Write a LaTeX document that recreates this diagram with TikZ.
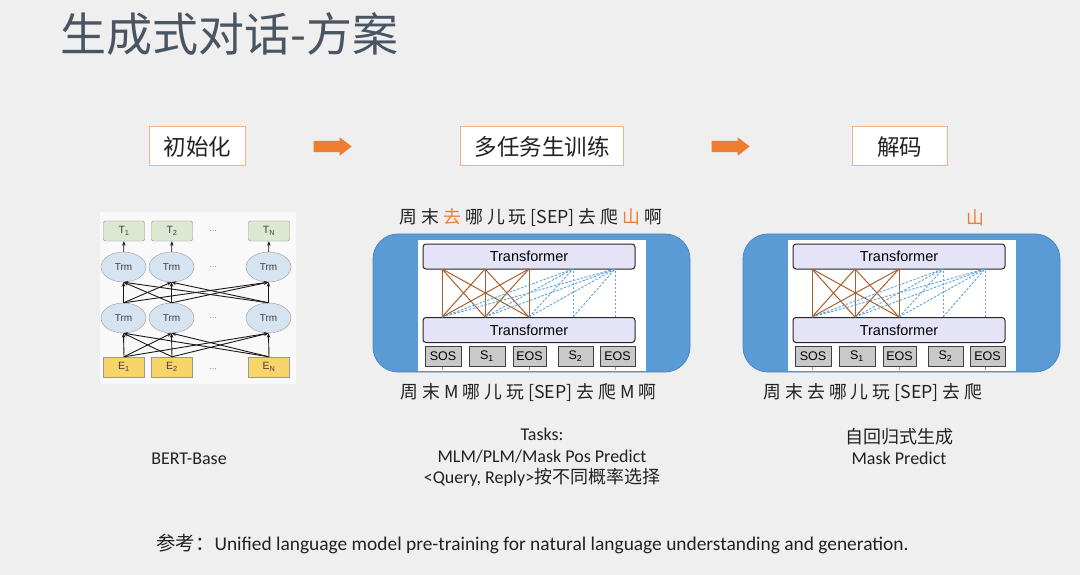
\documentclass[tikz,border=0pt]{standalone}
\usepackage{fontspec}
\setmainfont{Carlito}
\newfontfamily\cjk{Noto Sans CJK SC}
\newfontfamily\arial{Liberation Sans}
\usetikzlibrary{shapes.geometric,shapes.arrows,arrows.meta}
\definecolor{bgc}{HTML}{EFEFEF}
\definecolor{orangeA}{HTML}{ED7D31}
\definecolor{boxborder}{HTML}{F4B183}
\definecolor{panelblue}{HTML}{5B9BD5}
\definecolor{paneledge}{HTML}{4A86C0}
\definecolor{lav}{HTML}{E4E3F8}
\definecolor{tokgray}{HTML}{C9C9C9}
\definecolor{brownl}{HTML}{A8602E}
\definecolor{dashblue}{HTML}{62A3DC}
\definecolor{tgreen}{HTML}{DDE8D3}
\definecolor{eyellow}{HTML}{F8D46B}
\definecolor{trmblue}{HTML}{D6E3F1}
\definecolor{titlecol}{HTML}{4A5562}
\definecolor{txt}{HTML}{222222}
\tikzset{
  stagebox/.style={draw=boxborder, line width=1pt, fill=white, minimum height=39pt, minimum width=95pt, inner xsep=14pt, font=\cjk\fontsize{22.5}{22.5}\selectfont, text=txt},
  flowarrow/.style={single arrow, fill=orangeA, draw=none, inner xsep=0pt, inner ysep=5.5pt, single arrow head extend=3.5pt, single arrow tip angle=75, minimum height=38pt},
  panel/.style={draw=paneledge, line width=0.8pt, fill=panelblue, rounded corners=25pt, minimum width=317pt, minimum height=138pt},
  imgbg/.style={fill=white, draw=none, minimum width=228pt, minimum height=131pt, inner sep=0pt},
  tfbox/.style={draw=black!85, line width=1pt, fill=lav, rounded corners=3pt, minimum width=212pt, minimum height=25pt, font=\arial\fontsize{14.5}{14.5}\selectfont, inner sep=0pt},
  tok/.style={draw=black!75, line width=1pt, fill=tokgray, minimum height=20pt, font=\arial\fontsize{12.5}{12.5}\selectfont, inner sep=0pt},
  solidlink/.style={brownl, line width=1pt},
  dashlink/.style={dashblue, line width=0.9pt, dash pattern=on 2.5pt off 1.5pt},
  tickmark/.style={black!40, line width=0.5pt},
  tnode/.style={draw=black!45, fill=tgreen, rounded corners=2pt, minimum width=41pt, minimum height=20pt, font=\arial\fontsize{10.5}{10.5}\selectfont, inner sep=0pt, text=black!75},
  enode/.style={draw=black!40, fill=eyellow, minimum width=41pt, minimum height=20pt, font=\arial\fontsize{10.5}{10.5}\selectfont, inner sep=0pt, text=black!75},
  trm/.style={ellipse, draw=black!40, fill=trmblue, minimum width=45pt, minimum height=30pt, font=\arial\fontsize{10}{10}\selectfont, inner sep=0pt, text=black!75},
  dots/.style={font=\arial\fontsize{9}{9}\selectfont, text=black!50},
  bertarrow/.style={-{Stealth[length=4.5pt,width=3.5pt]}, line width=0.9pt, black!90},
  seqtext/.style={font=\cjk\fontsize{17.8}{17.8}\selectfont, text=txt, inner sep=0pt},
  captext/.style={font=\fontsize{18}{21.5}\selectfont, text=txt, align=center, inner sep=0pt},
}
\begin{document}
\begin{tikzpicture}[x=1pt,y=-1pt]
\useasboundingbox (0,0) rectangle (1080,575);
\fill[bgc] (0,0) rectangle (1080,575);

% title
\node[font=\cjk\fontsize{46}{46}\selectfont, text=titlecol, anchor=west, inner sep=0pt] (title) at (60,34) {生成式对话-方案};

% stage boxes and arrows
\node[stagebox] (init) at (197.5,146.5) {初始化};
\node[stagebox] (train) at (542,146.5) {多任务生训练};
\node[stagebox] (dec) at (899.5,146.5) {解码};
\node[flowarrow] (arr1) at (329,146.5) {};
\node[flowarrow] (arr2) at (727,146.5) {};

% BERT image
\node[fill=white!60!bgc, minimum width=196pt, minimum height=172pt, inner sep=0pt] (bertimg) at (198,298) {};
\foreach \i/\x/\lab in {1/124/1, 2/172/2, 3/269/N}{
  \node[tnode] (t\i) at (\x,231) {T\textsubscript{\lab}};
  \node[trm] (a\i) at (\x-0.5,267) {Trm};
  \node[trm] (b\i) at (\x-0.5,318) {Trm};
  \node[enode] (e\i) at (\x,367) {E\textsubscript{\lab}};
}
\node[dots] (d1) at (213,231) {...};
\node[dots] (d2) at (213,267) {...};
\node[dots] (d3) at (213,318) {...};
\node[dots] (d4) at (213,369) {...};
\foreach \i in {1,2,3}{
  \draw[bertarrow] (a\i) -- (t\i);
  \foreach \j in {1,2,3}{
    \draw[bertarrow] (e\i.north) -- (b\j.south);
    \draw[bertarrow] (b\i.north) -- (a\j.south);
  }
}

% panels
\foreach \dx/\p in {0/m, 370/d}{
  \node[panel] (\p-panel) at (531.5+\dx,303) {};
  \node[imgbg] (\p-img) at (532+\dx,305.5) {};
  \node[tfbox] (\p-tt) at (529+\dx,256.5) {Transformer};
  \node[tfbox] (\p-bt) at (529+\dx,330) {Transformer};
  \foreach \k/\x/\w/\lab in {1/443/36/SOS, 2/487/36/S\textsubscript{1}, 3/529.5/33/EOS, 4/575.5/35/S\textsubscript{2}, 5/617.5/35/EOS}{
    \node[tok, minimum width=\w pt] (\p-s\k) at (\x+\dx,356) {\lab};
  }
  \foreach \k/\x in {1/442, 2/485, 3/529, 4/573, 5/615}{
    \coordinate (\p-u\k) at (\x+\dx,269);
    \coordinate (\p-l\k) at (\x+\dx,317);
    \coordinate (\p-v\k) at (\x+\dx,370);
  }
  \foreach \i in {1,2,3}{
    \foreach \j in {1,2,3}{
      \draw[solidlink] (\p-l\i) -- (\p-u\j);
    }
  }
  \foreach \j in {4,5}{
    \foreach \i in {1,...,\j}{
      \draw[dashlink] (\p-l\i) -- (\p-u\j);
    }
  }
  \foreach \k in {1,3,5}{
    \draw[tickmark] (\p-s\k.south -| \p-v\k) -- (\p-v\k);
  }
}

% sequence texts
\node[seqtext] (seqtop) at (531,218) {周 末 \textcolor{orangeA}{去} 哪 儿 玩 [SEP] 去 爬 \textcolor{orangeA}{山} 啊};
\node[seqtext, text=orangeA] (shan) at (975,218) {山};
\node[seqtext] (seqmask) at (528.5,393) {周 末 M 哪 儿 玩 [SEP] 去 爬 M 啊};
\node[seqtext] (seqdec) at (873,393) {周 末 去 哪 儿 玩 [SEP] 去 爬};

% captions
\node[captext] (bertcap) at (189,459) {BERT-Base};
\node[captext] (taskcap) at (542,457.5) {Tasks:\\MLM/PLM/Mask Pos Predict\\{<}Query, Reply{>}{\cjk 按不同概率选择}};
\node[captext] (deccap) at (899,446.5) {{\cjk 自回归式生成}\\Mask Predict};

% reference
\node[font=\fontsize{19.4}{19.4}\selectfont, text=txt, inner sep=0pt] (ref) at (532.5,544) {{\cjk 参考：}Unified language model pre-training for natural language understanding and generation.};
\end{tikzpicture}
\end{document}
